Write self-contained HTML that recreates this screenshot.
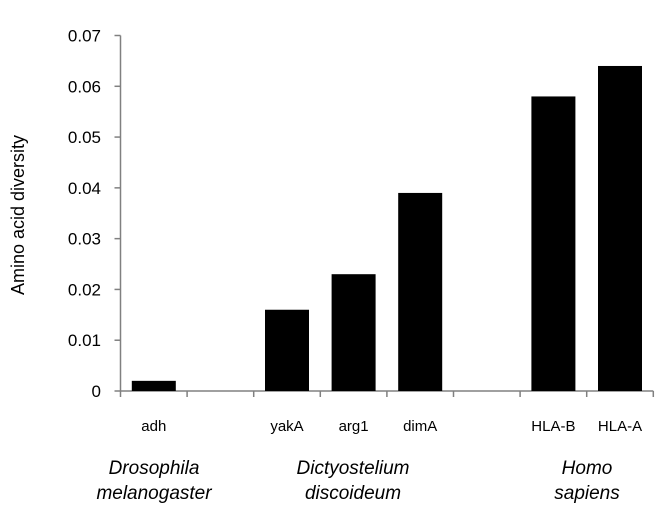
<!DOCTYPE html>
<html><head><meta charset="utf-8"><style>
body{margin:0;background:#fff;}
svg{display:block;font-family:"Liberation Sans","DejaVu Sans",sans-serif;}
</style></head><body>
<svg id="chart" width="671" height="528">
<g id="axes"></g><g id="bars"></g><g id="labels"></g>
<text transform="translate(24,215) rotate(-90)" text-anchor="middle" font-size="18" fill="#000">Amino acid diversity</text>
<g font-style="italic" font-size="19" fill="#000" text-anchor="middle">
<text x="154" y="474">Drosophila</text>
<text x="154" y="499">melanogaster</text>
<text x="353" y="474">Dictyostelium</text>
<text x="353" y="499">discoideum</text>
<text x="587" y="474">Homo</text>
<text x="587" y="499">sapiens</text>
</g>
</svg>
<script>
const categories=["adh","","yakA","arg1","dimA","","HLA-B","HLA-A"];
const values=[0.002,null,0.016,0.023,0.039,null,0.058,0.064];
const yTicks=[0,0.01,0.02,0.03,0.04,0.05,0.06,0.07];
const yTickLabels=["0","0.01","0.02","0.03","0.04","0.05","0.06","0.07"];
const NS="http://www.w3.org/2000/svg";
const x0=120.5,slot=66.6,y0=391,yTop=35.5,yMax=0.07,barW=44;
const y=v=>y0-(v/yMax)*(y0-yTop);
const xc=i=>x0+slot*(i+0.5);
function mk(tag,attrs,parent,text){const e=document.createElementNS(NS,tag);for(const k in attrs)e.setAttribute(k,attrs[k]);if(text!==undefined)e.textContent=text;document.getElementById(parent).appendChild(e);return e;}
let e=mk("line",{x1:x0,y1:yTop,x2:x0,y2:y0,stroke:"#808080","stroke-width":1.5},"axes");


e=mk("line",{x1:x0,y1:y0,x2:x0+slot*categories.length,y2:y0,stroke:"#808080","stroke-width":1.5},"axes");


yTicks.forEach((t,i)=>{
 const l=mk("line",{x1:x0-6,x2:x0,y1:y(t),y2:y(t),stroke:"#808080","stroke-width":1.5},"axes");
 
 
 const tx=mk("text",{x:101,y:y(t)+6,"text-anchor":"end","font-size":17,fill:"#000"},"labels",yTickLabels[i]);
 
 
});
for(let i=0;i<=categories.length;i++){
 const l=mk("line",{x1:x0+slot*i,x2:x0+slot*i,y1:y0,y2:y0+6,stroke:"#808080","stroke-width":1.5},"axes");
 
 
}
categories.forEach((c,i)=>{
 if(values[i]!==null){
  const r=mk("rect",{x:xc(i)-barW/2,y:y(values[i]),width:barW,height:y0-y(values[i]),fill:"#000"},"bars");
  
  
 }
 if(c){
  const t=mk("text",{x:xc(i),y:431,"text-anchor":"middle","font-size":15,fill:"#000"},"labels",c);
  
  
 }
});
</script>
</body></html>
